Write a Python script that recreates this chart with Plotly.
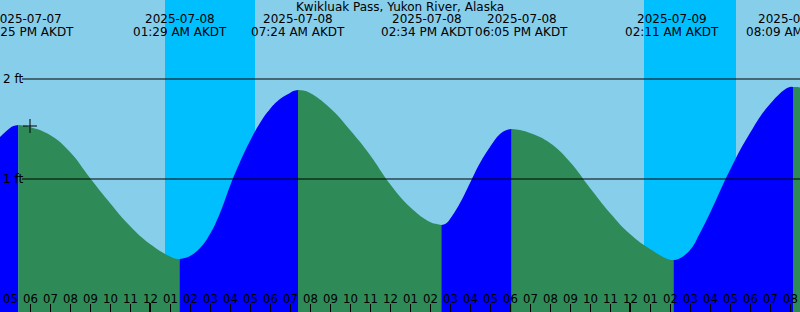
import pandas as pd
import plotly.graph_objects as go

# ---------------- data ----------------
station = "Kwikluak Pass, Yukon River, Alaska"

x_start = "2025-07-07 16:30"
x_end = "2025-07-09 08:30"

# tide extremes (high / low)
ext_times = ["2025-07-07 17:25", "2025-07-08 01:29", "2025-07-08 07:24",
             "2025-07-08 14:34", "2025-07-08 18:05", "2025-07-09 02:11",
             "2025-07-09 08:09"]
ext_heights = [1.54, 0.20, 1.89, 0.54, 1.50, 0.19, 1.92]

# water level (ft)
read_times = ["2025-07-07 16:30", "2025-07-07 17:00", "2025-07-07 17:10",
              "2025-07-07 17:40", "2025-07-07 18:00",
              "2025-07-07 19:00", "2025-07-07 20:00", "2025-07-07 21:00",
              "2025-07-07 22:00", "2025-07-07 23:00", "2025-07-08 00:00",
              "2025-07-08 01:00", "2025-07-08 01:15", "2025-07-08 01:45",
              "2025-07-08 02:00", "2025-07-08 02:30",
              "2025-07-08 03:00", "2025-07-08 03:30", "2025-07-08 04:00",
              "2025-07-08 04:30", "2025-07-08 05:00", "2025-07-08 05:30",
              "2025-07-08 06:00", "2025-07-08 06:30", "2025-07-08 07:00",
              "2025-07-08 07:10", "2025-07-08 07:40",
              "2025-07-08 08:00", "2025-07-08 09:00", "2025-07-08 10:00",
              "2025-07-08 11:00", "2025-07-08 12:00", "2025-07-08 13:00",
              "2025-07-08 14:00", "2025-07-08 14:20", "2025-07-08 14:48",
              "2025-07-08 15:00", "2025-07-08 15:30",
              "2025-07-08 16:00", "2025-07-08 16:30", "2025-07-08 17:00",
              "2025-07-08 17:30", "2025-07-08 17:50", "2025-07-08 18:20",
              "2025-07-08 19:00", "2025-07-08 20:00",
              "2025-07-08 21:00", "2025-07-08 22:00", "2025-07-08 23:00",
              "2025-07-09 00:00", "2025-07-09 01:00", "2025-07-09 01:57",
              "2025-07-09 02:25", "2025-07-09 03:00", "2025-07-09 03:30",
              "2025-07-09 04:00", "2025-07-09 05:00", "2025-07-09 06:00",
              "2025-07-09 07:00", "2025-07-09 07:55", "2025-07-09 08:23",
              "2025-07-09 08:30"]
read_heights = [1.42, 1.51, 1.53,
                1.535, 1.52,
                1.44, 1.27, 1.01,
                0.76, 0.53, 0.35,
                0.225, 0.205, 0.21,
                0.23, 0.31,
                0.45, 0.66, 0.93,
                1.17, 1.38, 1.56,
                1.70, 1.80, 1.86,
                1.88, 1.885,
                1.86, 1.71, 1.49,
                1.24, 0.95, 0.72,
                0.57, 0.55, 0.555,
                0.60, 0.76,
                0.96, 1.16, 1.32,
                1.45, 1.49, 1.495,
                1.46, 1.36,
                1.17, 0.91, 0.66,
                0.45, 0.30, 0.195,
                0.20, 0.29, 0.46,
                0.66, 1.09, 1.46,
                1.75, 1.915, 1.92,
                1.915]

night_starts = ["2025-07-08 00:45", "2025-07-09 00:42"]
night_ends = ["2025-07-08 05:15", "2025-07-09 05:18"]

midnights = ["2025-07-08 00:00", "2025-07-09 00:00"]

now_time = "2025-07-07 18:00"
now_height = 1.53

level_marks = [1, 2]
level_labels = ["1 ft", "2 ft"]

# ---------------- styles / positions ----------------
SKY = "#87CEEB"
NIGHT = "#00BFFF"
RISE = "#0000FF"
FALL = "#2E8B57"
FONT = "DejaVu Sans"
TICKFONT = "Liberation Sans Narrow, DejaVu Sans Condensed, DejaVu Sans"
Y_MIN, Y_MAX = -0.33, 2.79
H = 312
label_xshift = [9, 0, 0, -14, 10, -2, 0]   # px, label collision offsets

pts = pd.DataFrame({
    "t": pd.to_datetime(read_times + ext_times),
    "h": read_heights + ext_heights,
}).sort_values("t").reset_index(drop=True)

bounds = [pd.Timestamp(x_start)] + list(pd.to_datetime(ext_times)) + [pd.Timestamp(x_end)]

fig = go.Figure()

for a, b in zip(bounds[:-1], bounds[1:]):
    seg = pts[(pts.t >= a) & (pts.t <= b)]
    color = RISE if seg.h.iloc[-1] > seg.h.iloc[0] else FALL
    fig.add_trace(go.Scatter(x=[a, b], y=[-1, -1], mode="lines",
                             line=dict(width=0), hoverinfo="skip",
                             showlegend=False))
    fig.add_trace(go.Scatter(x=seg.t, y=seg.h, mode="lines",
                             line=dict(width=0, shape="spline", smoothing=1.3),
                             fill="tonexty", fillcolor=color,
                             hoverinfo="skip", showlegend=False))

fig.add_trace(go.Scatter(x=[now_time], y=[now_height], mode="markers",
                         marker=dict(symbol="cross-thin-open", size=10,
                                     color="black",
                                     line=dict(width=1, color="black")),
                         showlegend=False, hoverinfo="skip"))

shapes = []
for s, e in zip(night_starts, night_ends):
    shapes.append(dict(type="rect", xref="x", yref="paper", x0=s, x1=e,
                       y0=0, y1=1, fillcolor=NIGHT, line=dict(width=0),
                       layer="below"))
for lv in level_marks:
    shapes.append(dict(type="line", xref="paper", yref="y", x0=22 / 800, x1=1,
                       y0=lv, y1=lv, line=dict(color="black", width=1),
                       layer="above"))
for m in midnights:
    shapes.append(dict(type="line", xref="x", yref="paper", x0=m, x1=m,
                       y0=0, y1=9 / H, line=dict(color="black", width=2),
                       layer="above"))

annotations = []
for t, dx in zip(pd.to_datetime(ext_times), label_xshift):
    annotations.append(dict(x=t, xref="x", y=1 - 19 / H, yref="paper",
                            text=t.strftime("%Y-%m-%d"), showarrow=False,
                            xshift=dx,
                            font=dict(family=FONT, size=12, color="black"),
                            xanchor="center", yanchor="middle"))
    annotations.append(dict(x=t, xref="x", y=1 - 32 / H, yref="paper",
                            text=t.strftime("%I:%M %p") + " AKDT", showarrow=False,
                            xshift=dx,
                            font=dict(family=FONT, size=12, color="black"),
                            xanchor="center", yanchor="middle"))

# hour labels above the bottom ticks
hours = pd.date_range("2025-07-07 17:00", "2025-07-09 08:00", freq="h")
for t in hours:
    annotations.append(dict(x=t, xref="x", y=1 - 298 / H, yref="paper",
                            text=t.strftime("%I"), showarrow=False,
                            font=dict(family=TICKFONT, size=13, color="black"),
                            xanchor="center", yanchor="middle"))

fig.update_layout(
    width=800, height=H,
    margin=dict(l=0, r=0, t=0, b=0),
    paper_bgcolor=SKY, plot_bgcolor=SKY,
    title=dict(text=station, x=0.5, xanchor="center", y=1 - 7 / H,
               yanchor="middle", yref="container",
               font=dict(family=FONT, size=12, color="black")),
    shapes=shapes, annotations=annotations,
    xaxis=dict(type="date", range=[x_start, x_end], showgrid=False,
               zeroline=False, showline=False,
               tick0="2025-07-07 00:00", dtick=3600000,
               ticks="inside", ticklen=8, tickwidth=1, tickcolor="black",
               showticklabels=False),
    yaxis=dict(range=[Y_MIN, Y_MAX], showgrid=False, zeroline=False,
               showline=False, tickvals=level_marks, ticktext=level_labels,
               ticks="", ticklabelposition="inside",
               tickfont=dict(family=FONT, size=12, color="black")),
    showlegend=False,
)

fig.write_html("out.html")
